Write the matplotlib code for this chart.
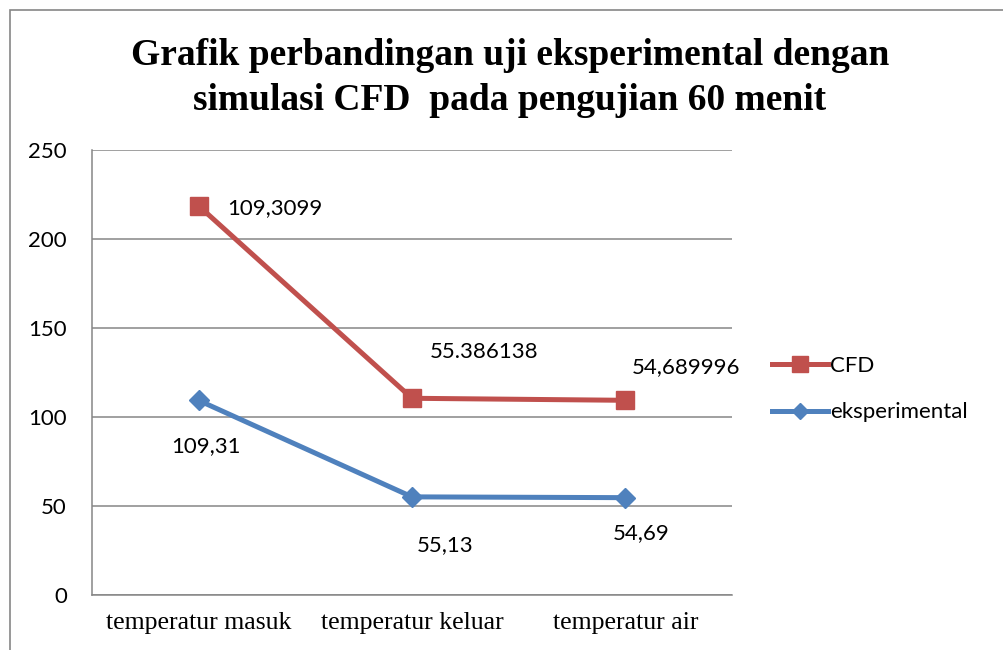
"""Line chart: experimental vs CFD temperatures after a 60 minute test."""
import matplotlib.pyplot as plt
from matplotlib.patches import Rectangle

categories = ['temperatur masuk', 'temperatur keluar', 'temperatur air']
eksperimental = [109.31, 55.13, 54.69]
cfd = [109.3099, 55.386138, 54.689996]

exp_labels = ['109,31', '55,13', '54,69']
cfd_labels = ['109,3099', '55.386138', '54,689996']

RED = '#C0504D'
BLUE = '#4F81BD'
GRID = '#868686'
SANS = 'Lato'
SERIF = 'Liberation Serif'

# stacked line: CFD series sits on top of the experimental one
cfd_stacked = [e + c for e, c in zip(eksperimental, cfd)]
x = list(range(len(categories)))

fig = plt.figure(figsize=(10.04, 6.5), dpi=100)
fig.patches.append(Rectangle((10 / 1004, -0.1), 1.2, 1.1 - 10 / 650,
                             transform=fig.transFigure, fill=False,
                             edgecolor=GRID, lw=1.2))
ax = fig.add_axes([92 / 1004, 55 / 650, 640 / 1004, 445 / 650])

ax.plot(x, cfd_stacked, color=RED, lw=3.6, marker='s', ms=13,
        label='CFD', zorder=3)
ax.plot(x, eksperimental, color=BLUE, lw=3.6, marker='D', ms=10,
        label='eksperimental', zorder=3)

ax.set_xlim(-0.5, 2.5)
ax.set_ylim(0, 250)
ax.set_yticks(range(0, 251, 50))
ax.set_xticks(x)
ax.set_xticklabels(categories, fontfamily=SERIF, fontsize=18.5)
ax.tick_params(axis='x', length=0, pad=12)
ax.tick_params(axis='y', length=0, pad=18, labelsize=16)
for lab in ax.get_yticklabels():
    lab.set_fontfamily(SANS)
ax.grid(axis='y', color=GRID, lw=1.1)
ax.set_axisbelow(True)
for side in ('top', 'right'):
    ax.spines[side].set_visible(False)
for side in ('left', 'bottom'):
    ax.spines[side].set_color(GRID)
    ax.spines[side].set_linewidth(1.1)

# data labels (pixel offsets from each marker)
cfd_off = [(76, -2), (72, 46), (61, 33)]
exp_off = [(7, -46), (33, -48), (16, -35)]
for i in x:
    ax.annotate(cfd_labels[i], (i, cfd_stacked[i]), xytext=cfd_off[i],
                textcoords='offset pixels', ha='center', va='center',
                fontfamily=SANS, fontsize=16)
    ax.annotate(exp_labels[i], (i, eksperimental[i]), xytext=exp_off[i],
                textcoords='offset pixels', ha='center', va='center',
                fontfamily=SANS, fontsize=16)

fig.text(510 / 1004, 1 - 78 / 650,
         'Grafik perbandingan uji eksperimental dengan\nsimulasi CFD  pada pengujian 60 menit',
         ha='center', va='center', fontfamily=SERIF, fontweight='bold',
         fontsize=27, linespacing=1.38)

fig.legend(loc='center left', bbox_to_anchor=(772 / 1004, 1 - 389 / 650),
           frameon=False, prop={'family': SANS, 'size': 16},
           handlelength=2.5, handletextpad=0.12, labelspacing=1.2,
           markerscale=0.85, borderaxespad=0, borderpad=0)

fig.savefig('out.png', dpi=100)
